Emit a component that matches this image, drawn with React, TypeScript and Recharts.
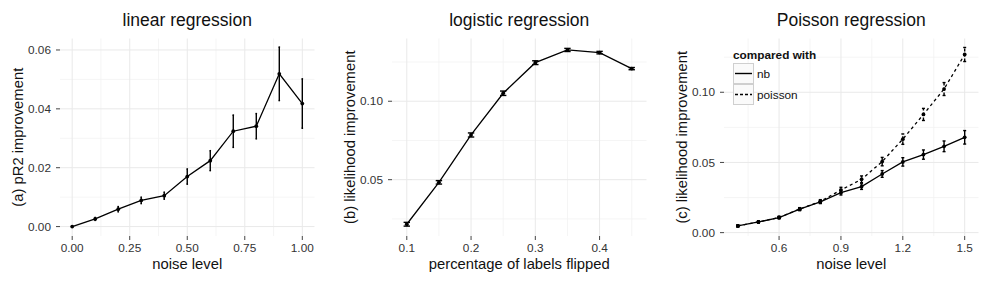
import { CartesianGrid, ErrorBar, Line, LineChart, XAxis, YAxis } from 'recharts'

// panel (a): linear regression
const linNoise = [0, 0.1, 0.2, 0.3, 0.4, 0.5, 0.6, 0.7, 0.8, 0.9, 1.0]
const linPr2 = [0, 0.0026, 0.0059, 0.0089, 0.0105, 0.017, 0.0224, 0.0324, 0.0341, 0.0519, 0.0418]
const linErr = [0.0002, 0.0005, 0.0009, 0.0011, 0.0012, 0.0026, 0.0034, 0.0055, 0.0043, 0.0091, 0.0084]

// panel (b): logistic regression
const logFlip = [0.1, 0.15, 0.2, 0.25, 0.3, 0.35, 0.4, 0.45]
const logLik = [0.0216, 0.0483, 0.0785, 0.1051, 0.1246, 0.1327, 0.131, 0.1208]
const logErr = [0.0012, 0.0011, 0.0013, 0.0014, 0.0012, 0.001, 0.0008, 0.0007]

// panel (c): Poisson regression
const poisNoise = [0.4, 0.5, 0.6, 0.7, 0.8, 0.9, 1.0, 1.1, 1.2, 1.3, 1.4, 1.5]
const nbLik = [0.0048, 0.0076, 0.0107, 0.0167, 0.0219, 0.0285, 0.0328, 0.0418, 0.0504, 0.0556, 0.0615, 0.0679]
const nbErr = [0.0006, 0.0007, 0.0008, 0.001, 0.0012, 0.0017, 0.002, 0.0024, 0.003, 0.0033, 0.0038, 0.0048]
const poisLik = [0.0048, 0.0076, 0.0108, 0.0168, 0.0222, 0.0304, 0.038, 0.0506, 0.0666, 0.0842, 0.1023, 0.1269]
const poisErr = [0.0006, 0.0007, 0.0008, 0.001, 0.0013, 0.0019, 0.0024, 0.003, 0.0037, 0.0043, 0.0046, 0.005]

const linData = linNoise.map((x, i) => ({ x, y: linPr2[i], err: linErr[i] }))
const logData = logFlip.map((x, i) => ({ x, y: logLik[i], err: logErr[i] }))
const poisData = poisNoise.map((x, i) => ({
  x,
  nb: nbLik[i],
  nbErr: nbErr[i],
  poisson: poisLik[i],
  poissonErr: poisErr[i],
}))

const FONT = '"Liberation Sans", Arial, Helvetica, sans-serif'
const W = 332
const H = 281
const MARGIN = { top: 38.5, right: 17.5, bottom: 0, left: 0 }
const PLOT_CX = 60 + (W - 60 - 17.5) / 2

const tickStyle = { fill: '#333', fontSize: 11.8, fontFamily: FONT }
const tickLine = { stroke: '#444', strokeWidth: 1 }

function Title({ left, text }: { left: number; text: string }) {
  return (
    <div
      style={{
        position: 'absolute',
        left: left + PLOT_CX - 150,
        width: 300,
        top: 9,
        textAlign: 'center',
        fontSize: 17.5,
        fontFamily: FONT,
        color: '#111',
        lineHeight: '22px',
      }}
    >
      {text}
    </div>
  )
}

function Grid({ xMinor, yMinor, xMajor, yMajor }: { xMinor: number[]; yMinor: number[]; xMajor: number[]; yMajor: number[] }) {
  return (
    <>
      <CartesianGrid stroke="#f3f3f3" strokeWidth={0.8} horizontalValues={yMinor} verticalValues={xMinor} />
      <CartesianGrid stroke="#e9e9e9" strokeWidth={1} horizontalValues={yMajor} verticalValues={xMajor} />
    </>
  )
}

function xAxisProps(domain: number[], ticks: number[], digits: number, label: string) {
  return {
    dataKey: 'x',
    type: 'number' as const,
    domain,
    ticks,
    allowDataOverflow: true,
    axisLine: false,
    tickLine,
    tickSize: 4,
    tickMargin: 4,
    height: 45,
    tick: tickStyle,
    tickFormatter: (v: number) => v.toFixed(digits),
    label: { value: label, position: 'insideBottom' as const, offset: 12, fill: '#111', fontSize: 14.8, fontFamily: FONT },
  }
}

function yAxisProps(domain: number[], ticks: number[], digits: number, label: string) {
  return {
    type: 'number' as const,
    domain,
    ticks,
    allowDataOverflow: true,
    axisLine: false,
    tickLine,
    tickSize: 4,
    tickMargin: 5,
    width: 60,
    tick: tickStyle,
    tickFormatter: (v: number) => v.toFixed(digits),
    label: {
      value: label,
      angle: -90,
      position: 'insideLeft' as const,
      offset: 18,
      fill: '#111',
      fontSize: 14.8,
      fontFamily: FONT,
      style: { textAnchor: 'middle' },
    },
  }
}

const dot = { r: 1.9, fill: '#000', stroke: 'none' }

export default function App() {
  return (
    <div style={{ position: 'absolute', left: 0, top: 0, width: 996, height: H, background: '#fff', fontFamily: FONT }}>
      <Title left={0} text="linear regression" />
      <Title left={W} text="logistic regression" />
      <Title left={2 * W} text="Poisson regression" />

      <div style={{ position: 'absolute', left: 0, top: 0 }}>
        <LineChart width={W} height={H} data={linData} margin={MARGIN}>
          <Grid xMinor={[0.125, 0.375, 0.625, 0.875]} yMinor={[0.01, 0.03, 0.05]} xMajor={[0, 0.25, 0.5, 0.75, 1]} yMajor={[0, 0.02, 0.04, 0.06]} />
          <XAxis {...xAxisProps([-0.053, 1.053], [0, 0.25, 0.5, 0.75, 1], 2, 'noise level')} />
          <YAxis {...yAxisProps([-0.0032, 0.0639], [0, 0.02, 0.04, 0.06], 2, '(a) pR2 improvement')} />
          <Line dataKey="y" stroke="#000" strokeWidth={1.3} dot={dot} activeDot={false} isAnimationActive={false}>
            <ErrorBar dataKey="err" direction="y" width={0.8} stroke="#000" strokeWidth={1.4} isAnimationActive={false} />
          </Line>
        </LineChart>
      </div>

      <div style={{ position: 'absolute', left: W, top: 0 }}>
        <LineChart width={W} height={H} data={logData} margin={MARGIN}>
          <Grid xMinor={[0.15, 0.25, 0.35, 0.45]} yMinor={[0.025, 0.075, 0.125]} xMajor={[0.1, 0.2, 0.3, 0.4]} yMajor={[0.05, 0.1]} />
          <XAxis {...xAxisProps([0.077, 0.473], [0.1, 0.2, 0.3, 0.4], 1, 'percentage of labels flipped')} />
          <YAxis {...yAxisProps([0.0141, 0.14], [0.05, 0.1], 2, '(b) likelihood improvement')} />
          <Line dataKey="y" stroke="#000" strokeWidth={1.3} dot={dot} activeDot={false} isAnimationActive={false}>
            <ErrorBar dataKey="err" direction="y" width={3.2} stroke="#000" strokeWidth={1.4} isAnimationActive={false} />
          </Line>
        </LineChart>
      </div>

      <div style={{ position: 'absolute', left: 2 * W, top: 0 }}>
        <LineChart width={W} height={H} data={poisData} margin={MARGIN}>
          <Grid xMinor={[0.45, 0.75, 1.05, 1.35]} yMinor={[0.025, 0.075, 0.125]} xMajor={[0.6, 0.9, 1.2, 1.5]} yMajor={[0, 0.05, 0.1]} />
          <XAxis {...xAxisProps([0.333, 1.567], [0.6, 0.9, 1.2, 1.5], 1, 'noise level')} />
          <YAxis {...yAxisProps([-0.0024, 0.1383], [0, 0.05, 0.1], 2, '(c) likelihood improvement')} />
          <Line dataKey="poisson" stroke="#000" strokeWidth={1.3} strokeDasharray="3 3" dot={dot} activeDot={false} isAnimationActive={false}>
            <ErrorBar dataKey="poissonErr" direction="y" width={1.5} stroke="#000" strokeWidth={1.4} strokeDasharray="3 2" isAnimationActive={false} />
          </Line>
          <Line dataKey="nb" stroke="#000" strokeWidth={1.3} dot={dot} activeDot={false} isAnimationActive={false}>
            <ErrorBar dataKey="nbErr" direction="y" width={1.5} stroke="#000" strokeWidth={1.4} isAnimationActive={false} />
          </Line>
        </LineChart>
      </div>

      {/* legend for panel (c) */}
      <div style={{ position: 'absolute', left: 733, top: 47, fontFamily: FONT, fontSize: 11.8, color: '#111' }}>
        <div style={{ fontWeight: 'bold', lineHeight: '16px', height: 16 }}>compared with</div>
        {[
          { name: 'nb', dash: undefined },
          { name: 'poisson', dash: '3 2' },
        ].map((k) => (
          <div key={k.name} style={{ display: 'flex', alignItems: 'center', height: 21 }}>
            <svg width={21} height={21} style={{ display: 'block' }}>
              <rect x={0.5} y={0.5} width={20} height={20} fill="#fafafa" stroke="#cfcfcf" />
              <line x1={2} x2={19} y1={10.5} y2={10.5} stroke="#000" strokeWidth={1.4} strokeDasharray={k.dash} />
            </svg>
            <span style={{ marginLeft: 3 }}>{k.name}</span>
          </div>
        ))}
      </div>
    </div>
  )
}
